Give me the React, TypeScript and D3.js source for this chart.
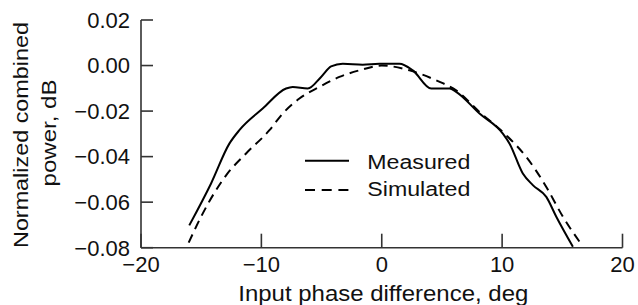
import React from "react";
import * as d3 from "d3";

const measuredX = [-15.99, -14.18, -12.66, -11.83, -9.89, -7.95, -7.4, -6.15, -5.04, -4.21, -3.24, -1.58, -0.19, 1.47, 2.58, 4.11, 5.63, 6.18, 8.12, 10.06, 10.62, 11.72, 12.55, 13.67, 14.5, 15.88];
const measuredY = [-0.0702, -0.0518, -0.0343, -0.0284, -0.0189, -0.0101, -0.0094, -0.0101, -0.005, -0.0004, 0.0008, 0.0004, 0.0008, 0.0008, -0.0021, -0.0101, -0.0101, -0.0116, -0.0211, -0.0299, -0.0343, -0.0474, -0.0525, -0.0577, -0.0664, -0.0796];

const simulatedX = [-16.04, -15.01, -12.93, -11.27, -9.33, -8.23, -6.84, -5.18, -3.52, -1.85, 0, 2.3, 4.52, 6.18, 8.12, 10.34, 12.0, 13.67, 15.05, 16.43];
const simulatedY = [-0.0778, -0.0664, -0.0482, -0.0386, -0.0284, -0.0211, -0.0145, -0.0094, -0.005, -0.0021, 0, -0.0021, -0.0065, -0.0109, -0.0204, -0.0306, -0.0401, -0.0533, -0.0664, -0.0774];

const xTicks = [-20, -10, 0, 10, 20];
const yTicks = [0.02, 0.0, -0.02, -0.04, -0.06, -0.08];

const seriesNames = ["Measured", "Simulated"];
const xTitle = "Input phase difference, deg";
const yTitleLines = ["Normalized combined", "power, dB"];

const W = 638;
const H = 305;

function fmtY(v: number) {
  const s = Math.abs(v).toFixed(2);
  return v < -1e-9 ? "\u2212" + s : s;
}
function fmtX(v: number) {
  return v < 0 ? "\u2212" + Math.abs(v) : String(v);
}

export default function App() {
  const x = d3.scaleLinear().domain([-20, 20]).range([141, 622.5]);
  const y = d3.scaleLinear().domain([-0.08, 0.02]).range([247.7, 20]);

  const line = d3
    .line<[number, number]>()
    .x((d) => x(d[0]))
    .y((d) => y(d[1]))
    .curve(d3.curveMonotoneX);

  const mData: [number, number][] = measuredX.map((v, i) => [v, measuredY[i]]);
  const sData: [number, number][] = simulatedX.map((v, i) => [v, simulatedY[i]]);

  const font = "'Liberation Sans', Arial, Helvetica, sans-serif";
  const axisColor = "#333";
  const textColor = "#111";

  return (
    <svg
      width={W}
      height={H}
      style={{ position: "absolute", left: 0, top: 0, background: "#fff" }}
      fontFamily={font}
    >
      <rect x={0} y={0} width={W} height={H} fill="#fff" />
      {/* axes */}
      <line x1={x(-20)} x2={x(-20)} y1={y(0.02)} y2={y(-0.08)} stroke={axisColor} strokeWidth={1.6} />
      <line x1={x(-20)} x2={x(20)} y1={y(-0.08)} y2={y(-0.08)} stroke={axisColor} strokeWidth={1.6} />
      {yTicks.map((t) => (
        <g key={"y" + t}>
          <line x1={x(-20)} x2={x(-20) + 12} y1={y(t)} y2={y(t)} stroke={axisColor} strokeWidth={1.6} />
          <text x={130} y={y(t) + 7.8} textAnchor="end" fontSize={22} fill={textColor}>
            {fmtY(t)}
          </text>
        </g>
      ))}
      {xTicks.map((t) => (
        <g key={"x" + t}>
          <line x1={x(t)} x2={x(t)} y1={y(-0.08)} y2={y(-0.08) - 14} stroke={axisColor} strokeWidth={1.6} />
          <text x={x(t)} y={271.8} textAnchor="middle" fontSize={22} fill={textColor}>
            {fmtX(t)}
          </text>
        </g>
      ))}
      {/* titles */}
      <text x={383.3} y={301.3} textAnchor="middle" fontSize={22} fill={textColor} textLength={290} lengthAdjust="spacingAndGlyphs">
        {xTitle}
      </text>
      <text transform="translate(27.5,135) rotate(-90)" textAnchor="middle" fontSize={20} fill={textColor} textLength={226} lengthAdjust="spacingAndGlyphs">
        {yTitleLines[0]}
      </text>
      <text transform="translate(56,133) rotate(-90)" textAnchor="middle" fontSize={20} fill={textColor} textLength={107} lengthAdjust="spacingAndGlyphs">
        {yTitleLines[1]}
      </text>
      {/* curves */}
      <path d={line(sData) || ""} fill="none" stroke="#000" strokeWidth={2} strokeDasharray="9,6" />
      <path d={line(mData) || ""} fill="none" stroke="#000" strokeWidth={2} />
      {/* legend */}
      <line x1={305} x2={349} y1={160.7} y2={160.7} stroke="#000" strokeWidth={2} />
      <text x={367.3} y={168.5} fontSize={19.5} fill={textColor} textLength={103} lengthAdjust="spacingAndGlyphs">
        {seriesNames[0]}
      </text>
      <line x1={305} x2={349} y1={190} y2={190} stroke="#000" strokeWidth={2} strokeDasharray="10,6.7" />
      <text x={367.3} y={195.5} fontSize={19.5} fill={textColor} textLength={103} lengthAdjust="spacingAndGlyphs">
        {seriesNames[1]}
      </text>
    </svg>
  );
}
